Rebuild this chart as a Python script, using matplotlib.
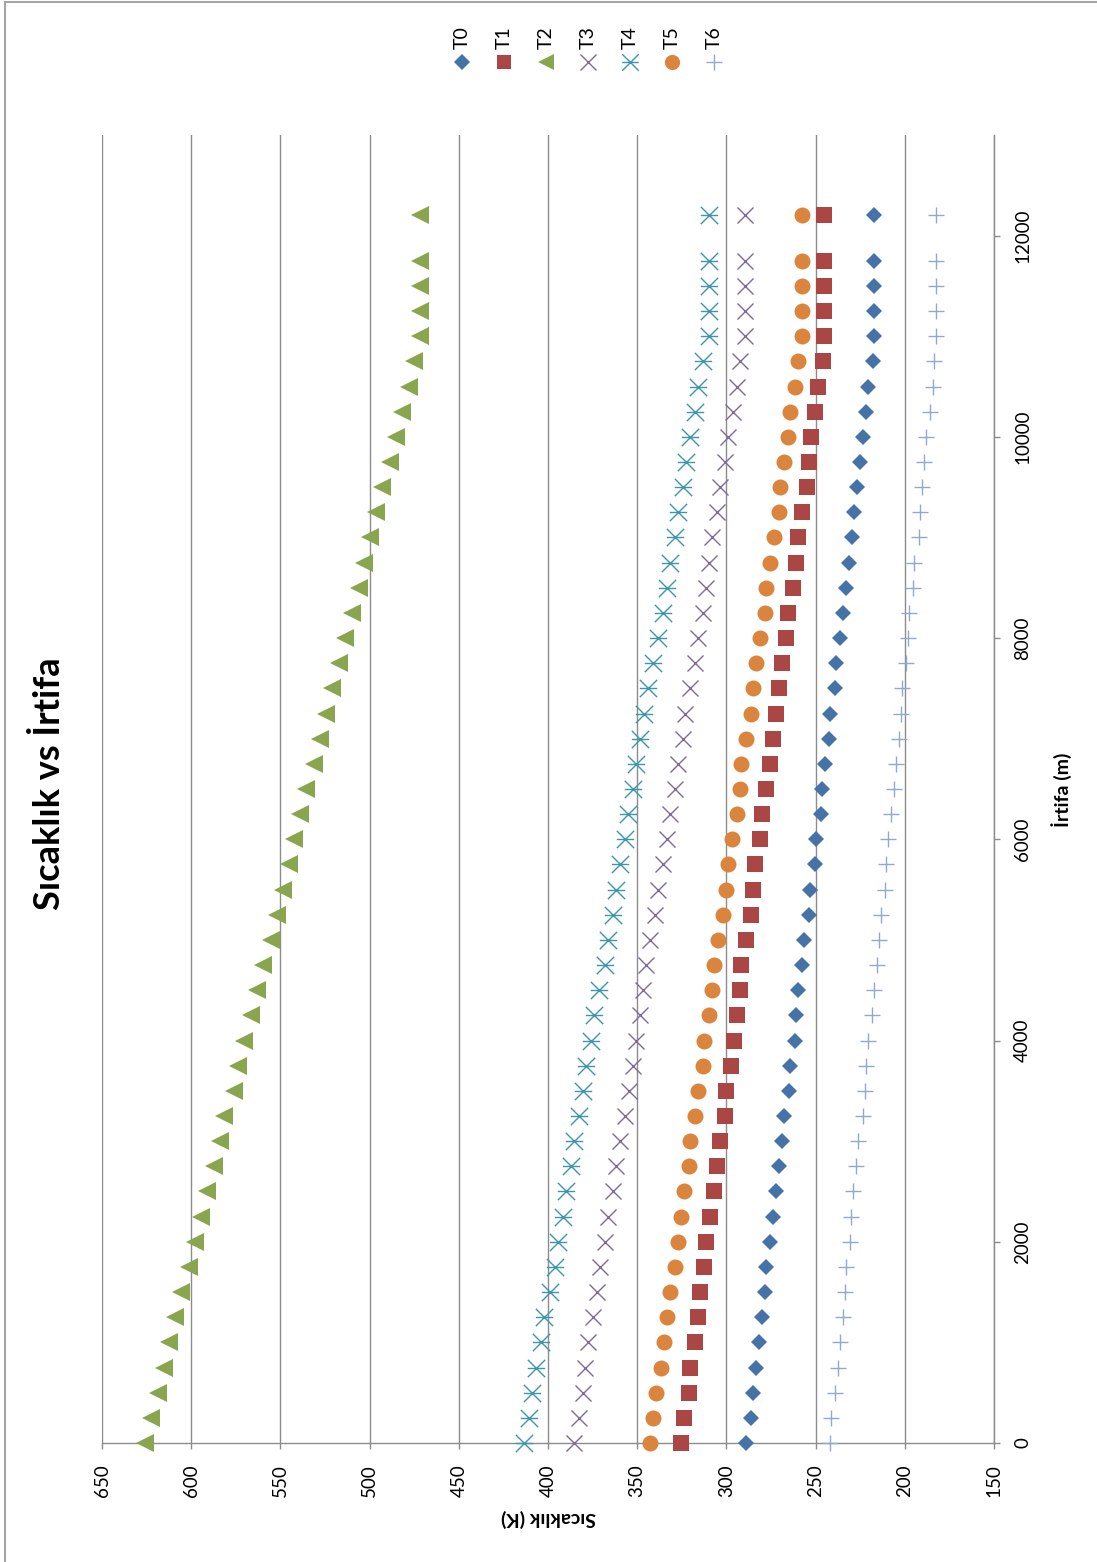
import matplotlib
matplotlib.use("Agg")
import matplotlib.pyplot as plt
from matplotlib.path import Path
from matplotlib.lines import Line2D

plt.rcParams['font.family'] = ['Lato', 'DejaVu Sans']

# Altitude (m)
altitude = [0, 250, 500, 750, 1000, 1250, 1500, 1750, 2000, 2250, 2500, 2750,
            3000, 3250, 3500, 3750, 4000, 4250, 4500, 4750, 5000, 5250, 5500, 5750,
            6000, 6250, 6500, 6750, 7000, 7250, 7500, 7750, 8000, 8250, 8500, 8750,
            9000, 9250, 9500, 9750, 10000, 10250, 10500, 10750, 11000, 11250, 11500,
            11750, 12200]

# Temperatures (K) of each series at the altitudes above
T0 = [288.8, 286.2, 285.2, 283.4, 281.9, 280.0, 278.1, 277.6, 275.7, 274.0,
      272.2, 270.3, 268.8, 267.8, 265.0, 264.5, 261.7, 260.9, 260.0, 257.6,
      256.6, 253.8, 252.9, 250.5, 249.5, 246.9, 246.4, 245.0, 242.6, 241.7,
      239.2, 238.3, 236.4, 234.8, 232.9, 231.4, 229.5, 228.6, 226.7, 225.2,
      223.4, 221.7, 220.6, 217.9, 217.4, 217.4, 217.4, 217.4, 217.4]
T1 = [325.4, 323.6, 321.1, 320.2, 317.8, 315.9, 315.0, 312.3, 311.4, 309.0,
      307.1, 305.2, 303.7, 300.9, 300.2, 297.4, 295.9, 294.0, 292.5, 291.6,
      288.8, 286.2, 285.2, 283.7, 280.9, 280.0, 277.6, 275.7, 274.0, 272.2,
      270.7, 268.8, 266.4, 265.4, 262.8, 260.9, 260.0, 257.6, 254.8, 253.8,
      252.3, 250.5, 248.8, 246.0, 245.4, 245.4, 245.4, 245.4, 245.4]
T2 = [625.7, 622.3, 618.6, 615.1, 612.7, 609.3, 605.6, 601.3, 597.8, 594.4,
      590.9, 587.5, 583.8, 581.4, 576.2, 573.6, 570.2, 566.5, 562.9, 559.6,
      555.3, 551.8, 548.4, 545.1, 542.3, 539.1, 535.4, 531.1, 527.6, 524.2,
      520.9, 517.3, 514.0, 509.7, 506.0, 503.4, 500.0, 496.3, 492.9, 488.5,
      485.1, 481.6, 478.0, 474.9, 472.0, 472.0, 472.0, 472.0, 472.0]
T3 = [385.6, 382.8, 380.4, 379.4, 377.6, 375.0, 372.5, 370.7, 368.2, 366.4,
      363.7, 361.9, 359.4, 356.6, 354.8, 352.5, 350.7, 348.2, 346.9, 345.1,
      343.0, 340.2, 338.5, 335.7, 333.3, 331.4, 329.0, 327.1, 324.5, 323.0,
      320.2, 317.8, 315.9, 313.3, 311.4, 309.5, 308.0, 305.2, 303.4, 300.9,
      299.1, 296.5, 294.0, 292.5, 289.7, 289.7, 289.7, 289.7, 289.7]
T4 = [413.3, 410.8, 409.0, 406.5, 403.7, 402.1, 398.7, 395.9, 394.4, 391.6,
      389.9, 387.1, 385.6, 382.8, 380.4, 378.5, 375.9, 374.0, 371.2, 368.2,
      366.4, 363.7, 361.9, 359.4, 357.0, 355.1, 352.5, 350.7, 348.2, 346.4,
      343.9, 341.1, 338.5, 335.7, 333.3, 331.4, 329.0, 327.1, 324.5, 322.6,
      320.2, 317.8, 315.9, 313.3, 309.5, 309.5, 309.5, 309.5, 309.5]
T5 = [342.6, 341.1, 339.3, 336.6, 334.8, 333.3, 331.4, 329.0, 327.1, 325.4,
      323.6, 321.1, 320.2, 317.4, 315.9, 313.3, 312.3, 309.5, 308.0, 306.7,
      304.7, 301.9, 300.2, 299.1, 296.8, 294.0, 292.5, 291.6, 288.8, 286.2,
      285.2, 283.4, 280.9, 278.5, 277.6, 275.7, 273.1, 270.7, 269.7, 267.8,
      265.4, 264.5, 261.7, 260.0, 257.6, 257.6, 257.6, 257.6, 257.6]
T6 = [241.7, 241.1, 239.2, 237.4, 236.4, 234.8, 233.8, 232.9, 230.5, 229.9,
      229.0, 227.1, 226.2, 223.6, 222.4, 221.7, 220.6, 218.3, 217.4, 215.5,
      214.6, 213.6, 211.2, 210.5, 209.5, 207.7, 206.2, 205.2, 203.4, 202.4,
      201.5, 199.3, 198.3, 197.4, 195.5, 194.6, 192.2, 191.2, 190.3, 189.3,
      187.9, 186.0, 184.3, 183.4, 182.4, 182.4, 182.4, 182.4, 182.4]

series_names = ['T0', 'T1', 'T2', 'T3', 'T4', 'T5', 'T6']
series_values = [T0, T1, T2, T3, T4, T5, T6]

temp_ticks = [650, 600, 550, 500, 450, 400, 350, 300, 250, 200, 150]
alt_ticks = [0, 2000, 4000, 6000, 8000, 10000, 12000]

# star marker: an "x" crossed by a bar
star = Path([(-0.5, -0.5), (0.5, 0.5), (-0.5, 0.5), (0.5, -0.5), (-0.5, 0.0), (0.5, 0.0)],
            [Path.MOVETO, Path.LINETO, Path.MOVETO, Path.LINETO, Path.MOVETO, Path.LINETO])

styles = [
    dict(marker='D', ms=8.3, color='#4572A7', mew=0),
    dict(marker='s', ms=11.0, color='#AA4643', mew=0),
    dict(marker='<', ms=12.5, color='#89A54E', mew=0),
    dict(marker='x', ms=11.5, color='#80699B', mew=1.0),
    dict(marker=star, ms=12.5, color='#3D96AE', mew=1.0),
    dict(marker='o', ms=11.5, color='#DB843D', mew=0),
    dict(marker='+', ms=12.0, color='#92A8CD', mew=1.0),
]

W, H = 1097, 1562
fig = plt.figure(figsize=(W / 100, H / 100), dpi=100)
fig.patch.set_facecolor('white')

ax = fig.add_axes([102 / W, 1 - 1443 / H, (994 - 102) / W, (1443 - 135) / H])
ax.set_xlim(650, 150)
ax.set_ylim(0, 13000)

for vals, st in zip(series_values, styles):
    ax.plot(vals, altitude, linestyle='none', marker=st['marker'], markersize=st['ms'],
            color=st['color'], markeredgewidth=st['mew'], clip_on=False, zorder=3)

grid_col = '#8c8c8c'
ax.set_xticks(temp_ticks)
ax.set_yticks(alt_ticks)
ax.grid(axis='x', color=grid_col, linewidth=1.0)
ax.set_axisbelow(True)
for side in ['top', 'left']:
    ax.spines[side].set_visible(False)
ax.spines['bottom'].set_color(grid_col)
ax.spines['right'].set_color(grid_col)
ax.spines['bottom'].set_linewidth(1.0)
ax.spines['right'].set_linewidth(1.0)
ax.yaxis.tick_right()
ax.tick_params(axis='x', direction='out', length=4.5, width=1.0, color=grid_col,
               pad=11, labelsize=13.5, labelrotation=90)
ax.tick_params(axis='y', direction='out', length=4.5, width=1.0, color=grid_col,
               pad=10, labelsize=13.5, labelrotation=90)
for lab in ax.get_yticklabels():
    lab.set_verticalalignment('center')

# titles and axis names
fig.text(50 / W, 1 - 784 / H, 'Sıcaklık vs İrtifa', rotation=90, ha='center', va='center',
         fontsize=26, fontweight='bold')
fig.text(1062 / W, 1 - 790 / H, 'İrtifa (m)', rotation=90, ha='center', va='center',
         fontsize=14, fontweight='bold')
fig.text(548 / W, 1 - 1518 / H, 'Sıcaklık (K)', rotation=180, ha='center', va='center',
         fontsize=14, fontweight='bold')

# legend laid out across the top
for i, (name, st) in enumerate(zip(series_names, styles)):
    x = (462 + 42 * i) / W
    fig.add_artist(Line2D([x], [1 - 62 / H], transform=fig.transFigure, linestyle='none',
                          marker=st['marker'], markersize=st['ms'] * 0.95, color=st['color'],
                          markeredgewidth=st['mew']))
    fig.text(x, 1 - 38 / H, name, rotation=90, ha='center', va='center', fontsize=14)

# chart border
fig.add_artist(Line2D([5 / W, 5 / W], [0, 1 - 2 / H], transform=fig.transFigure,
                      color='#a6a6a6', linewidth=1.5))
fig.add_artist(Line2D([5 / W, 1], [1 - 2 / H, 1 - 2 / H], transform=fig.transFigure,
                      color='#a6a6a6', linewidth=1.5))

fig.savefig('out.png', dpi=100, facecolor='white')
